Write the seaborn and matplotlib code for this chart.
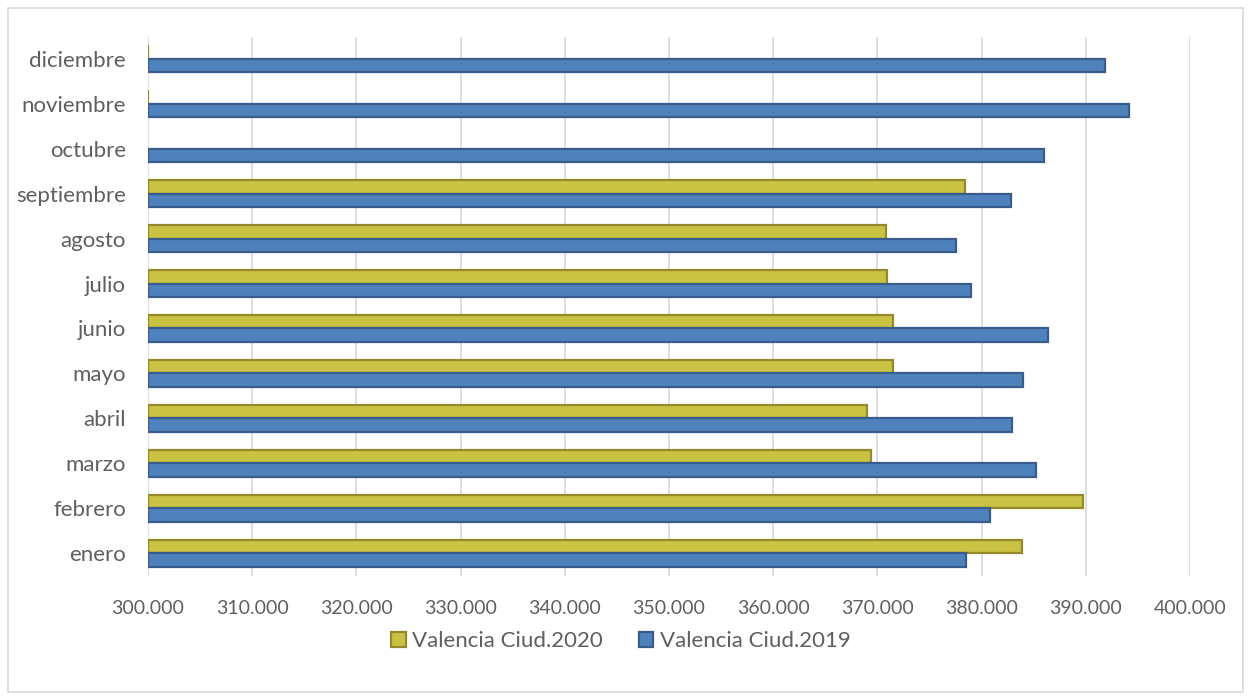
import numpy as np
import pandas as pd
import matplotlib
matplotlib.use("Agg")
import matplotlib.pyplot as plt
import seaborn as sns
from matplotlib.patches import Rectangle, Patch

months = ["enero", "febrero", "marzo", "abril", "mayo", "junio", "julio",
          "agosto", "septiembre", "octubre", "noviembre", "diciembre"]
v2020 = [383900, 389700, 369350, 369000, 371500, 371500, 370950, 370800,
         378450, np.nan, 0, 0]
v2019 = [378500, 380800, 385200, 382900, 384000, 386350, 379000, 377500,
         382800, 386000, 394100, 391850]
series = ["Valencia Ciud.2020", "Valencia Ciud.2019"]
xticks = [300000 + 10000 * i for i in range(11)]

fill = {series[0]: "#C9C243", series[1]: "#4F81BD"}
edge = {series[0]: "#948A2C", series[1]: "#385D8A"}

df = pd.DataFrame({
    "mes": months * 2,
    "valor": v2020 + v2019,
    "serie": [series[0]] * 12 + [series[1]] * 12,
})

sns.set_theme(style="white")
plt.rcParams["font.family"] = ["Lato", "DejaVu Sans"]

fig = plt.figure(figsize=(12.51, 7.0), dpi=100)
ax = fig.add_axes([148 / 1251, 1 - 575.5 / 700, (1190 - 148) / 1251, (575.5 - 36.5) / 700])

order = months[::-1]
sns.barplot(data=df, x="valor", y="mes", hue="serie", order=order,
            hue_order=series, palette=fill, orient="h", width=0.6,
            ax=ax, legend=False, gap=0)

xmin, xmax = xticks[0], xticks[-1]
# style bars and make them start at the axis minimum, as in the original
for container, s in zip(ax.containers, series):
    for p in container.patches:
        w = p.get_width()
        if np.isnan(w):
            p.set_visible(False)
            continue
        end = p.get_x() + w
        p.set_x(xmin)
        p.set_width(max(end - xmin, 0))
        p.set_edgecolor(edge[s])
        p.set_linewidth(1.6)
        p.set_facecolor(fill[s])

ax.set_xlim(xmin, xmax)
ax.set_xticks(xticks)
ax.set_xticklabels([f"{t // 1000}.000" for t in xticks])
ax.grid(axis="x", color="#D9D9D9", linewidth=1.2)
ax.set_axisbelow(True)
for sp in ax.spines.values():
    sp.set_visible(False)
ax.tick_params(axis="both", length=0, colors="#5f5f5f")
ax.tick_params(axis="x", pad=18, labelsize=14)
ax.tick_params(axis="y", pad=16, labelsize=16)
ax.set_xlabel("")
ax.set_ylabel("")

handles = [Patch(facecolor=fill[s], edgecolor=edge[s], linewidth=1.6, label=s) for s in series]
leg = fig.legend(handles=handles, loc="center", bbox_to_anchor=(621 / 1251, 1 - 641 / 700),
                 ncol=2, frameon=False, fontsize=16, handlelength=0.65, handleheight=0.65,
                 handletextpad=0.3, columnspacing=1.6)
for t in leg.get_texts():
    t.set_color("#5f5f5f")

fig.patches.append(Rectangle((8 / 1251, 8 / 700), 1 - 16 / 1251, 1 - 16 / 700,
                             transform=fig.transFigure, fill=False,
                             edgecolor="#D9D9D9", linewidth=1.2))

fig.savefig("out.png", dpi=100)
